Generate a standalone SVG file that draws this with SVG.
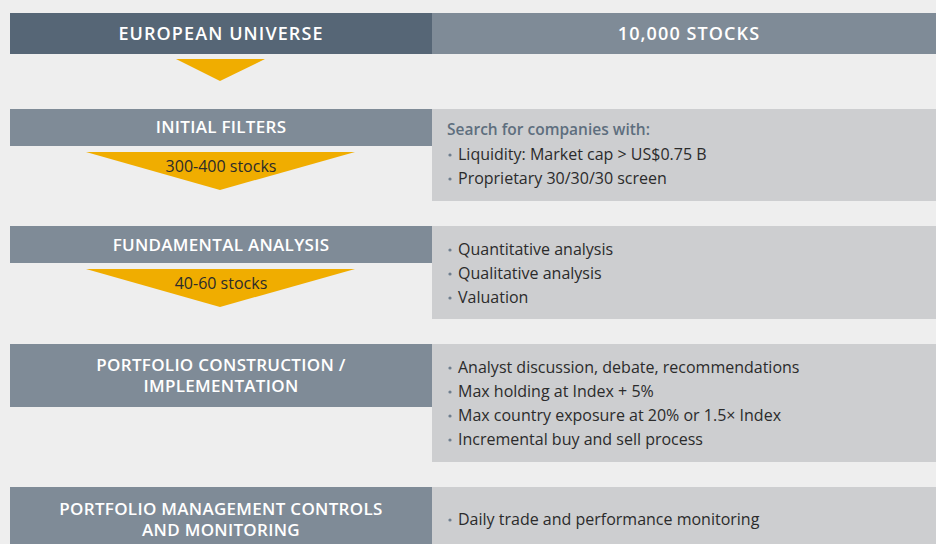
<svg xmlns="http://www.w3.org/2000/svg" width="936" height="544" viewBox="0 0 936 544">
<style>
.bg{fill:#eeeeee}
.hdrL{fill:#566676}
.hdr{fill:#7f8b97}
.panel{fill:#cdced0}
.tri{fill:#f0ad00}
.ht{font-family:"Open Sans","Liberation Sans",sans-serif;font-weight:600;fill:#ffffff;text-anchor:middle}
.big{font-size:18px;letter-spacing:1.1px}
.mid{font-size:17px;letter-spacing:0.3px}
.cnt{font-family:"Open Sans","Liberation Sans",sans-serif;font-size:16px;fill:#2b2b2b;text-anchor:middle}
.bt{font-family:"Open Sans","Liberation Sans",sans-serif;font-size:16px;fill:#2b2b2b}
.lead{font-family:"Open Sans","Liberation Sans",sans-serif;font-size:15.5px;font-weight:600;fill:#5e6e7e}
.dot{fill:#6e7e8e}
</style>
<rect class="bg" x="0" y="0" width="936" height="544"/>
<g id="european-universe">
<rect class="hdrL" x="10" y="13" width="422" height="41"/>
<text class="ht big" x="221" y="40">EUROPEAN UNIVERSE</text>
</g>
<g id="stocks-10000">
<rect class="hdr" x="432" y="13" width="504" height="41"/>
<text class="ht big" x="689" y="40">10,000 STOCKS</text>
</g>
<g id="connectors">
<polygon class="tri" points="176,59 265,59 220,81"/>
<polygon class="tri" points="86,152 355,152 220,190"/>
<polygon class="tri" points="86,269 355,269 220,307"/>
<text class="cnt" x="221" y="172">300-400 stocks</text>
<text class="cnt" x="221" y="289">40-60 stocks</text>
</g>
<g id="initial-filters">
<rect class="hdr" x="10" y="109" width="422" height="37"/>
<text class="ht mid" x="221" y="133">INITIAL FILTERS</text>
</g>
<g id="initial-filters-details">
<rect class="panel" x="432" y="109" width="504" height="92"/>
<text class="lead" x="447" y="135">Search for companies with:</text>
<circle class="dot" cx="450" cy="155" r="1.6"/>
<text class="bt" x="458" y="160">Liquidity: Market cap &gt; US$0.75 B</text>
<circle class="dot" cx="450" cy="179" r="1.6"/>
<text class="bt" x="458" y="184">Proprietary 30/30/30 screen</text>
</g>
<g id="fundamental-analysis">
<rect class="hdr" x="10" y="226" width="422" height="37"/>
<text class="ht mid" x="221" y="251">FUNDAMENTAL ANALYSIS</text>
</g>
<g id="fundamental-analysis-details">
<rect class="panel" x="432" y="226" width="504" height="93"/>
<circle class="dot" cx="450" cy="250" r="1.6"/>
<text class="bt" x="458" y="255">Quantitative analysis</text>
<circle class="dot" cx="450" cy="274" r="1.6"/>
<text class="bt" x="458" y="279">Qualitative analysis</text>
<circle class="dot" cx="450" cy="298" r="1.6"/>
<text class="bt" x="458" y="303">Valuation</text>
</g>
<g id="portfolio-construction">
<rect class="hdr" x="10" y="344" width="422" height="63"/>
<text class="ht mid" x="221" y="371">PORTFOLIO CONSTRUCTION /</text>
<text class="ht mid" x="221" y="392">IMPLEMENTATION</text>
</g>
<g id="portfolio-construction-details">
<rect class="panel" x="432" y="344" width="504" height="118"/>
<circle class="dot" cx="450" cy="368" r="1.6"/>
<text class="bt" x="458" y="373">Analyst discussion, debate, recommendations</text>
<circle class="dot" cx="450" cy="392" r="1.6"/>
<text class="bt" x="458" y="397">Max holding at Index + 5%</text>
<circle class="dot" cx="450" cy="416" r="1.6"/>
<text class="bt" x="458" y="421">Max country exposure at 20% or 1.5× Index</text>
<circle class="dot" cx="450" cy="440" r="1.6"/>
<text class="bt" x="458" y="445">Incremental buy and sell process</text>
</g>
<g id="portfolio-management">
<rect class="hdr" x="10" y="487" width="422" height="57"/>
<text class="ht mid" x="221" y="515">PORTFOLIO MANAGEMENT CONTROLS</text>
<text class="ht mid" x="221" y="536">AND MONITORING</text>
</g>
<g id="portfolio-management-details">
<rect class="panel" x="432" y="487" width="504" height="57"/>
<circle class="dot" cx="450" cy="520" r="1.6"/>
<text class="bt" x="458" y="525">Daily trade and performance monitoring</text>
</g>
</svg>
